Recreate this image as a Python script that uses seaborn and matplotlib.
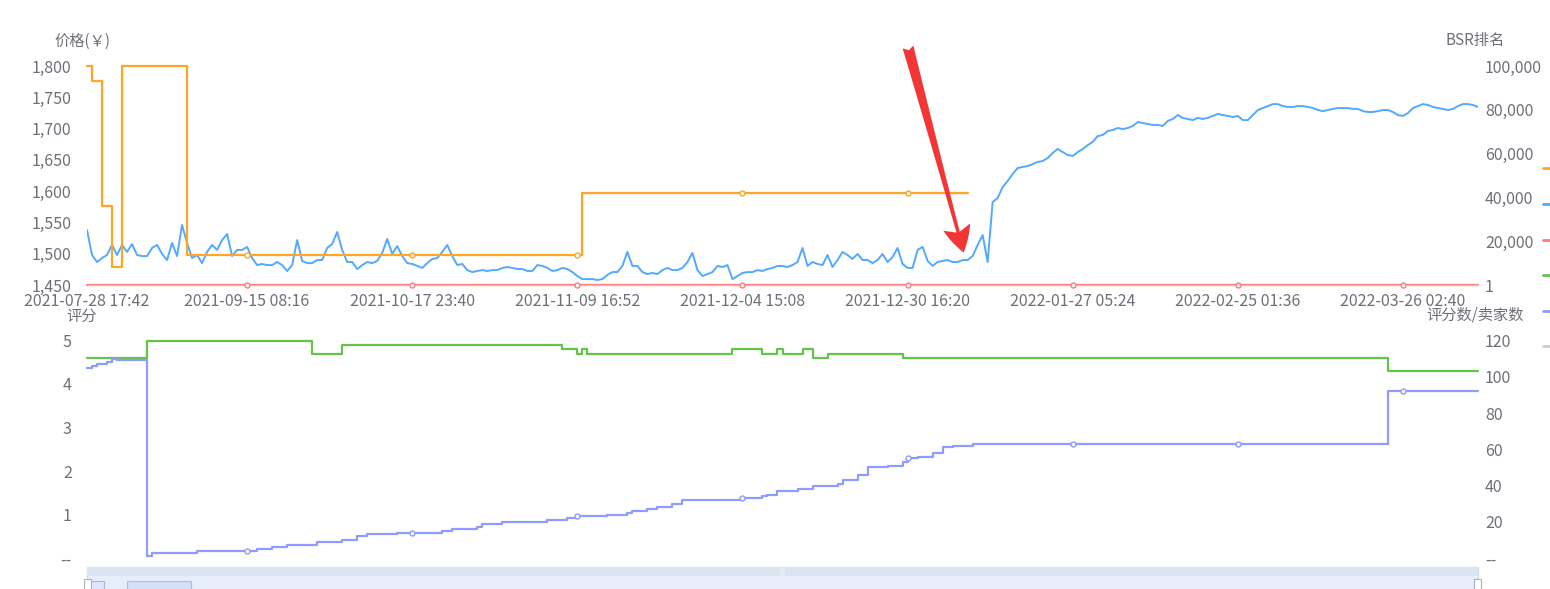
import numpy as np
import matplotlib
matplotlib.use('Agg')
import matplotlib.pyplot as plt
import matplotlib.patches as mpatches
from matplotlib.lines import Line2D
import seaborn as sns

# category axis (one category per sample), labels shown under the top panel
tick_idx = [0, 32, 65, 98, 131, 164, 197, 230, 263]
tick_labels = ['2021-07-28 17:42', '2021-09-15 08:16', '2021-10-17 23:40', '2021-11-09 16:52',
               '2021-12-04 15:08', '2021-12-30 16:20', '2022-01-27 05:24', '2022-02-25 01:36',
               '2022-03-26 02:40']
n_last = 278

# 价格(￥): category index where the price changes -> new price
price_at = [0, 1, 3, 5, 7, 20, 99, 176]
price_val = [1800, 1776, 1577, 1479, 1800, 1498, 1597, 1597]

# red series, flat at the bottom of the price axis
deal_at = [0, 278]
deal_val = [1450, 1450]

# BSR排名, one value per category
bsr = [
    25100, 13700, 10500, 12300, 13700, 18300, 13700, 18300, 15100, 18700,
    13700, 13200, 13200, 16900, 18300, 14200, 11400, 19200, 13200, 27400,
    19200, 12300, 13700, 10000, 15100, 18300, 16000, 20500, 23300, 13200,
    16000, 16000, 17400, 12300, 9100, 9600, 9100, 9100, 10500, 9100,
    6400, 9100, 20500, 11000, 10000, 10000, 11400, 11400, 16900, 18700,
    24200, 16000, 10500, 10500, 7300, 9100, 10500, 10000, 11000, 14600,
    21000, 14200, 17800, 13200, 10000, 9600, 8700, 7800, 10000, 11900,
    12300, 15100, 18300, 13200, 9100, 9600, 6800, 5900, 6400, 6800,
    6400, 6800, 6800, 7800, 8200, 7800, 7300, 7300, 6400, 6400,
    9100, 8700, 7800, 6400, 6800, 7800, 7300, 5900, 4100, 2700,
    2700, 2700, 2300, 2700, 4600, 5900, 5900, 8700, 15100, 8700,
    8700, 5900, 5000, 5500, 5000, 6800, 7800, 6800, 6800, 7800,
    10500, 14600, 6800, 4100, 5000, 5900, 8700, 8200, 9100, 2700,
    4100, 5500, 5900, 5900, 6800, 6400, 7300, 7800, 8700, 8700,
    8200, 9100, 10500, 16900, 8700, 10500, 9600, 9100, 13700, 8200,
    11400, 15100, 13700, 11900, 14200, 11400, 11400, 10000, 11400, 14200,
    10500, 12800, 16900, 9600, 7800, 7800, 16000, 17400, 11000, 8700,
    10500, 11000, 11400, 10500, 10500, 11400, 11400, 13200, 18300, 22800,
    10500, 37900, 39700, 44700, 47500, 50700, 53400, 53900, 54300, 55200,
    56200, 56600, 58000, 60300, 62100, 60700, 59400, 58900, 60700, 62100,
    63900, 65300, 68000, 68500, 70300, 70800, 71700, 71200, 71700, 72600,
    74400, 74000, 73500, 73100, 73100, 72600, 74900, 75800, 77600, 76300,
    75800, 75300, 76300, 75800, 76300, 77200, 78100, 77600, 77200, 76700,
    77200, 75300, 75300, 77600, 79900, 80800, 81700, 82600, 82600, 81700,
    81300, 81300, 81700, 81700, 81300, 80800, 79900, 79400, 79900, 80400,
    80800, 80800, 80800, 80400, 80400, 79400, 79000, 79000, 79400, 79900,
    79900, 79000, 77600, 77200, 78500, 80800, 81700, 82600, 82200, 81300,
    80800, 80400, 79900, 80400, 81700, 82600, 82600, 82200, 81300,
]

# 评分 (steps)
rating_at = [0, 12, 45, 51, 95, 98, 99, 100, 129, 135, 138, 139, 143, 145, 148, 163, 260, 278]
rating_val = [4.6, 5.0, 4.7, 4.9, 4.8, 4.7, 4.8, 4.7, 4.8, 4.7, 4.8, 4.7, 4.8, 4.6, 4.7, 4.6, 4.3, 4.3]

# 评分数 (steps)
reviews_at = [0, 1, 2, 4, 5, 6, 12, 13, 22, 34, 37, 40, 46, 51, 54, 56, 62, 71, 73, 78, 79, 83,
              92, 96, 98, 104, 108, 109, 112, 114, 117, 119, 131, 135, 136, 138, 142, 145, 150,
              151, 154, 156, 160, 163, 164, 166, 169, 171, 173, 177, 260, 278]
reviews_val = [105, 106, 107, 108, 110, 109, 1, 3, 4, 5, 6, 7, 9, 10, 12, 13, 14, 15, 16, 17, 19, 20,
               21, 22, 23, 24, 25, 26, 27, 28, 30, 32, 33, 34, 35, 37, 38, 40, 41,
               43, 46, 50, 51, 53, 55, 56, 58, 61, 62, 63, 92, 92]

c_price, c_bsr, c_deal = '#ffa629', '#52a9ff', '#ff7b7b'
c_rating, c_reviews, c_sellers = '#62c548', '#8e9bff', '#cccccc'
txt = '#6e7079'

sns.set_style('white')
plt.rcParams['font.family'] = ['Noto Sans CJK SC', 'DejaVu Sans']

W, H = 1550, 589
def fx(x):
    return x / W
def fy(y):
    return 1 - y / H

fig = plt.figure(figsize=(W / 100, H / 100), dpi=100)
ax1 = fig.add_axes([fx(87), fy(285), (1478 - 87) / W, (285 - 66) / H])
ax1b = ax1.twinx()
ax2 = fig.add_axes([fx(87), fy(558), (1478 - 87) / W, (558 - 340.5) / H])
ax2b = ax2.twinx()


def step_value(at, val, i):
    return val[np.searchsorted(at, i, side='right') - 1]


def tick_marks(ax, at, val, color):
    # small hollow symbols where the series crosses a labelled category
    xs = [i for i in tick_idx[1:] if at[0] <= i <= at[-1]]
    ys = [step_value(at, val, i) for i in xs]
    ax.plot(xs, ys, 'o', ms=3.6, mfc='white', mec=color, mew=1, clip_on=False, zorder=5)


# top panel
sns.lineplot(x=list(range(len(bsr))), y=bsr, ax=ax1b, color=c_bsr, lw=1.4)
sns.lineplot(x=price_at, y=price_val, ax=ax1, color=c_price, lw=1.6, drawstyle='steps-post', clip_on=False)
sns.lineplot(x=deal_at, y=deal_val, ax=ax1, color=c_deal, lw=1.6, drawstyle='steps-post', clip_on=False)
tick_marks(ax1, price_at, price_val, c_price)
tick_marks(ax1, deal_at, deal_val, c_deal)
ax1.set_zorder(2)
ax1b.set_zorder(1)
ax1.patch.set_visible(False)

ax1.set_xlim(0, n_last)
ax1.set_ylim(1450, 1800)
ax1.set_yticks(range(1450, 1801, 50))
ax1.set_yticklabels([f'{v:,}' for v in range(1450, 1801, 50)])
ax1b.set_ylim(1, 100000)
bsr_ticks = [1, 20000, 40000, 60000, 80000, 100000]
ax1b.set_yticks(bsr_ticks)
ax1b.set_yticklabels([f'{v:,}' for v in bsr_ticks])
ax1.set_xticks(tick_idx)
ax1.set_xticklabels(tick_labels)

# bottom panel
sns.lineplot(x=rating_at, y=rating_val, ax=ax2, color=c_rating, lw=1.6, drawstyle='steps-post', clip_on=False)
sns.lineplot(x=reviews_at, y=reviews_val, ax=ax2b, color=c_reviews, lw=1.6, drawstyle='steps-post', clip_on=False)
tick_marks(ax2b, reviews_at, reviews_val, c_reviews)
ax2.set_xlim(0, n_last)
ax2.set_ylim(0, 5)
ax2.set_yticks(range(6))
ax2.set_yticklabels(['--', '1', '2', '3', '4', '5'])
ax2b.set_ylim(0, 120)
ax2b.set_yticks(range(0, 121, 20))
ax2b.set_yticklabels(['--'] + [str(v) for v in range(20, 121, 20)])
ax2.set_xticks([])

for ax in (ax1, ax1b, ax2, ax2b):
    ax.set_xlabel('')
    ax.set_ylabel('')
    for s in ax.spines.values():
        s.set_visible(False)
    ax.tick_params(axis='y', length=0, labelsize=11.5, labelcolor=txt)
ax1.spines['bottom'].set_visible(True)
ax1.spines['bottom'].set_color('#cccccc')
ax1.tick_params(axis='x', length=5, width=1.5, color='#e0e0e0', pad=1, labelsize=11.5, labelcolor=txt)
ax1.tick_params(axis='y', pad=11)
ax2.tick_params(axis='y', pad=11)
ax1b.tick_params(axis='y', pad=5)
ax2b.tick_params(axis='y', pad=5)

# axis names
fig.text(fx(82), fy(41), '价格(￥)', ha='center', va='center', fontsize=11, color=txt)
fig.text(fx(1475), fy(40), 'BSR排名', ha='center', va='center', fontsize=11, color=txt)
fig.text(fx(82), fy(316), '评分', ha='center', va='center', fontsize=11, color=txt)
fig.text(fx(1475), fy(315), '评分数/卖家数', ha='center', va='center', fontsize=11, color=txt)

# red arrow pointing at the BSR turn
ax1.annotate('', xy=(175.2, 14800), xycoords=ax1b.transData,
             xytext=(908, H - 47), textcoords='figure pixels',
             arrowprops=dict(arrowstyle='fancy,head_length=1.0,head_width=1.05,tail_width=0.42',
                             fc='#f23535', ec='none', mutation_scale=19, shrinkA=0, shrinkB=0),
             zorder=10)

# legend markers (legend text is cut off at the right edge)
for y, c in zip([168, 204, 240, 275, 311, 346],
                [c_price, c_bsr, c_deal, c_rating, c_reviews, c_sellers]):
    fig.add_artist(Line2D([fx(1543), fx(1551)], [fy(y), fy(y)], transform=fig.transFigure, color=c, lw=2))

# data zoom slider at the bottom
def box(x0, y0, x1, y1, fc, ec, lw=1.0):
    fig.add_artist(mpatches.Rectangle((fx(x0), fy(y1)), (x1 - x0) / W, (y1 - y0) / H,
                                      transform=fig.transFigure, fc=fc, ec=ec, lw=lw))

box(87, 567, 1478, 592, '#e7edfb', '#d2d9e8')
box(87, 567, 1478, 576, '#dce3f1', 'none')
box(91, 581, 104, 592, '#dde6fb', '#a9b9da', 0.8)
box(127, 581, 191, 592, '#d4dff8', '#a7bdee', 0.8)
box(84, 579, 91, 592, 'white', '#a8b0c2', 0.8)
box(1474, 579, 1481, 592, 'white', '#a8b0c2', 0.8)
fig.text(fx(782), fy(571.5), '|||', ha='center', va='center', fontsize=5, color='white')

fig.savefig('out.png', dpi=100)
